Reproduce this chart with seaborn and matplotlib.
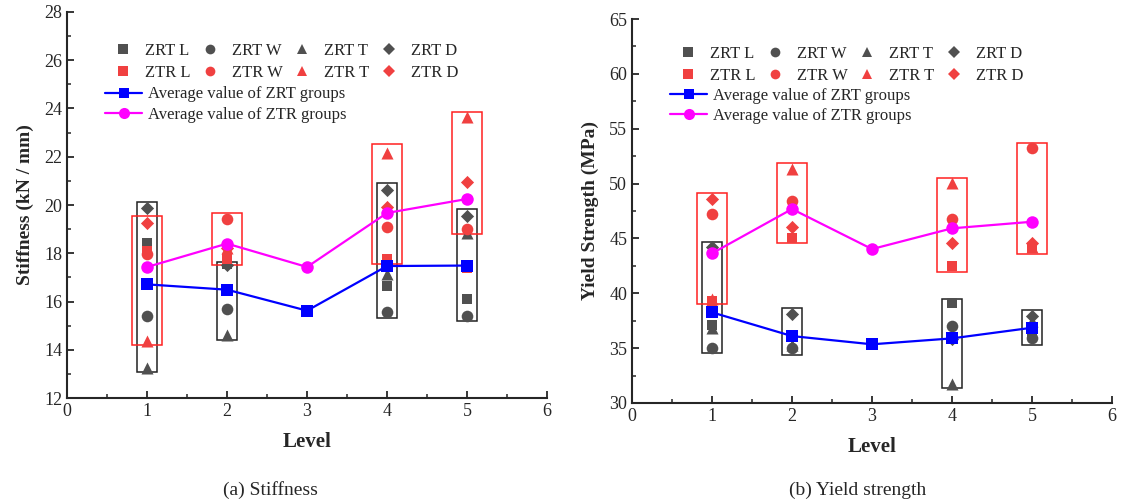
import numpy as np
import pandas as pd
import matplotlib
matplotlib.use("Agg")
import matplotlib.pyplot as plt
import seaborn as sns
from matplotlib.patches import Rectangle
from matplotlib.lines import Line2D
from matplotlib.ticker import MultipleLocator

sns.set_style("ticks")
plt.rcParams['font.family'] = ['Liberation Serif', 'DejaVu Serif']

nan = np.nan
levels = [1, 2, 3, 4, 5]
shapes = ["L", "W", "T", "D"]

# ---- Stiffness (kN/mm) ----
stiff_zrt_L = [18.44, 17.54, nan, 16.63, 16.10]
stiff_zrt_W = [15.40, 15.68, nan, 15.57, 15.39]
stiff_zrt_T = [13.24, 14.60, nan, 17.12, 18.85]
stiff_zrt_D = [19.88, 17.50, nan, 20.64, 19.56]
stiff_ztr_L = [18.10, 17.78, nan, 17.75, 17.40]
stiff_ztr_W = [17.95, 19.40, nan, 19.07, 19.01]
stiff_ztr_T = [14.36, 18.22, nan, 22.14, 23.63]
stiff_ztr_D = [19.27, 18.20, nan, 19.90, 20.97]
stiff_zrt_avg = [16.71, 16.49, 15.62, 17.47, 17.49]
stiff_ztr_avg = [17.43, 18.40, 17.43, 19.67, 20.25]
stiff_zrt_box_lo = [13.06, 14.39, nan, 15.30, 15.19]
stiff_zrt_box_hi = [20.12, 17.63, nan, 20.90, 19.84]
stiff_ztr_box_lo = [14.18, 17.53, nan, 17.57, 18.78]
stiff_ztr_box_hi = [19.54, 19.65, nan, 22.51, 23.86]

# ---- Yield strength (MPa) ----
yield_zrt_L = [37.10, 36.00, nan, 39.14, 36.20]
yield_zrt_W = [35.05, 35.00, nan, 37.01, 35.90]
yield_zrt_T = [36.80, 35.30, nan, 31.73, 37.50]
yield_zrt_D = [44.20, 38.08, nan, 35.80, 37.90]
yield_ztr_L = [39.30, 45.00, nan, 42.48, 44.10]
yield_ztr_W = [47.23, 48.41, nan, 46.74, 53.21]
yield_ztr_T = [39.45, 51.30, nan, 50.02, 44.20]
yield_ztr_D = [48.56, 46.07, nan, 44.55, 44.60]
yield_zrt_avg = [38.26, 36.10, 35.35, 35.89, 36.86]
yield_ztr_avg = [43.64, 47.68, 44.03, 45.92, 46.52]
yield_zrt_box_lo = [34.53, 34.37, nan, 31.33, 35.28]
yield_zrt_box_hi = [44.64, 38.63, nan, 39.45, 38.47]
yield_ztr_box_lo = [39.02, 44.55, nan, 41.97, 43.55]
yield_ztr_box_hi = [49.10, 51.85, nan, 50.48, 53.67]

GREY = "#505050"
RED = "#F04040"
BLUE = "#0000FF"
MAG = "#FF00FF"
markers = {"L": "s", "W": "o", "T": "^", "D": "D"}
msizes = {"L": 55, "W": 70, "T": 75, "D": 45}


def long_frame(zrt, ztr):
    rows = []
    for grp, series in (("ZRT", zrt), ("ZTR", ztr)):
        for shp, vals in zip(shapes, series):
            for lv, v in zip(levels, vals):
                rows.append({"Level": lv, "value": v, "group": grp, "shape": shp})
    return pd.DataFrame(rows).dropna()


def panel(ax, df, zrt_avg, ztr_avg, zlo, zhi, tlo, thi, ylim, ystep, yminor, ylabel,
          leg1_y, leg2_y):
    for lv, lo, hi in zip(levels, zlo, zhi):
        if not np.isnan(lo):
            ax.add_patch(Rectangle((lv - 0.12, lo), 0.24, hi - lo, fill=False,
                                   edgecolor="#222222", linewidth=1.1, zorder=1))
    for lv, lo, hi in zip(levels, tlo, thi):
        if not np.isnan(lo):
            ax.add_patch(Rectangle((lv - 0.19, lo), 0.38, hi - lo, fill=False,
                                   edgecolor="#FF2020", linewidth=1.1, zorder=1))
    for grp, col in (("ZRT", GREY), ("ZTR", RED)):
        for shp in shapes:
            sub = df[(df.group == grp) & (df["shape"] == shp)]
            sns.scatterplot(data=sub, x="Level", y="value", ax=ax, color=col,
                            marker=markers[shp], s=msizes[shp], linewidth=0,
                            legend=False, zorder=3)
    sns.lineplot(x=levels, y=zrt_avg, ax=ax, color=BLUE, marker="s", markersize=8,
                 markeredgewidth=0, linewidth=1.6, zorder=4)
    sns.lineplot(x=levels, y=ztr_avg, ax=ax, color=MAG, marker="o", markersize=9,
                 markeredgewidth=0, linewidth=1.6, zorder=4)
    ax.set_xlim(0, 6)
    ax.set_ylim(*ylim)
    ax.xaxis.set_major_locator(MultipleLocator(1))
    ax.xaxis.set_minor_locator(MultipleLocator(0.5))
    ax.yaxis.set_major_locator(MultipleLocator(ystep))
    ax.yaxis.set_minor_locator(MultipleLocator(yminor))
    ax.tick_params(which="major", direction="in", length=5, width=1.3, labelsize=13)
    ax.tick_params(which="minor", direction="in", length=3, width=1.1)
    sns.despine(ax=ax)
    for s in ("left", "bottom"):
        ax.spines[s].set_linewidth(1.5)
    ax.set_xlabel("Level", fontsize=15, fontweight="bold", labelpad=9)
    ax.set_ylabel(ylabel, fontsize=14, fontweight="bold", labelpad=7)

    h1 = []
    for shp in shapes:
        for grp, col in (("ZRT", GREY), ("ZTR", RED)):
            h1.append(Line2D([], [], linestyle="none", marker=markers[shp], color=col,
                             markersize=7 if shp != "D" else 6, markeredgewidth=0,
                             label=f"{grp} {shp}"))
    leg1 = ax.legend(handles=h1, ncol=4, loc="upper left", bbox_to_anchor=(0.10, leg1_y),
                     frameon=False, fontsize=12, handlelength=1.0, handletextpad=0.8,
                     columnspacing=0.68, labelspacing=0.35, borderpad=0, borderaxespad=0)
    ax.add_artist(leg1)
    h2 = [Line2D([], [], color=BLUE, marker="s", markersize=7, markeredgewidth=0, linewidth=1.6,
                 label="Average value of ZRT groups"),
          Line2D([], [], color=MAG, marker="o", markersize=8, markeredgewidth=0, linewidth=1.6,
                 label="Average value of ZTR groups")]
    ax.legend(handles=h2, loc="upper left", bbox_to_anchor=(0.08, leg2_y), frameon=False,
              fontsize=12, handlelength=2.2, handletextpad=0.35, labelspacing=0.25,
              borderpad=0, borderaxespad=0)


fig = plt.figure(figsize=(11.23, 5.04), dpi=100)
ax1 = fig.add_axes([0.0597, 0.2103, 0.4274, 0.7659])
ax2 = fig.add_axes([0.5628, 0.2004, 0.4274, 0.7619])

df1 = long_frame([stiff_zrt_L, stiff_zrt_W, stiff_zrt_T, stiff_zrt_D],
                 [stiff_ztr_L, stiff_ztr_W, stiff_ztr_T, stiff_ztr_D])
df2 = long_frame([yield_zrt_L, yield_zrt_W, yield_zrt_T, yield_zrt_D],
                 [yield_ztr_L, yield_ztr_W, yield_ztr_T, yield_ztr_D])

panel(ax1, df1, stiff_zrt_avg, stiff_ztr_avg, stiff_zrt_box_lo, stiff_zrt_box_hi,
      stiff_ztr_box_lo, stiff_ztr_box_hi, (12, 28), 2, 1, "Stiffness (kN / mm)", 0.92, 0.807)
panel(ax2, df2, yield_zrt_avg, yield_ztr_avg, yield_zrt_box_lo, yield_zrt_box_hi,
      yield_ztr_box_lo, yield_ztr_box_hi, (30, 65), 5, 2.5, "Yield Strength (MPa)", 0.93, 0.82)

fig.text(270 / 1123, 1 - 490 / 504, "(a) Stiffness", ha="center", va="center", fontsize=14)
fig.text(858 / 1123, 1 - 490 / 504, "(b) Yield strength", ha="center", va="center", fontsize=14)

fig.savefig("out.png", dpi=100)
